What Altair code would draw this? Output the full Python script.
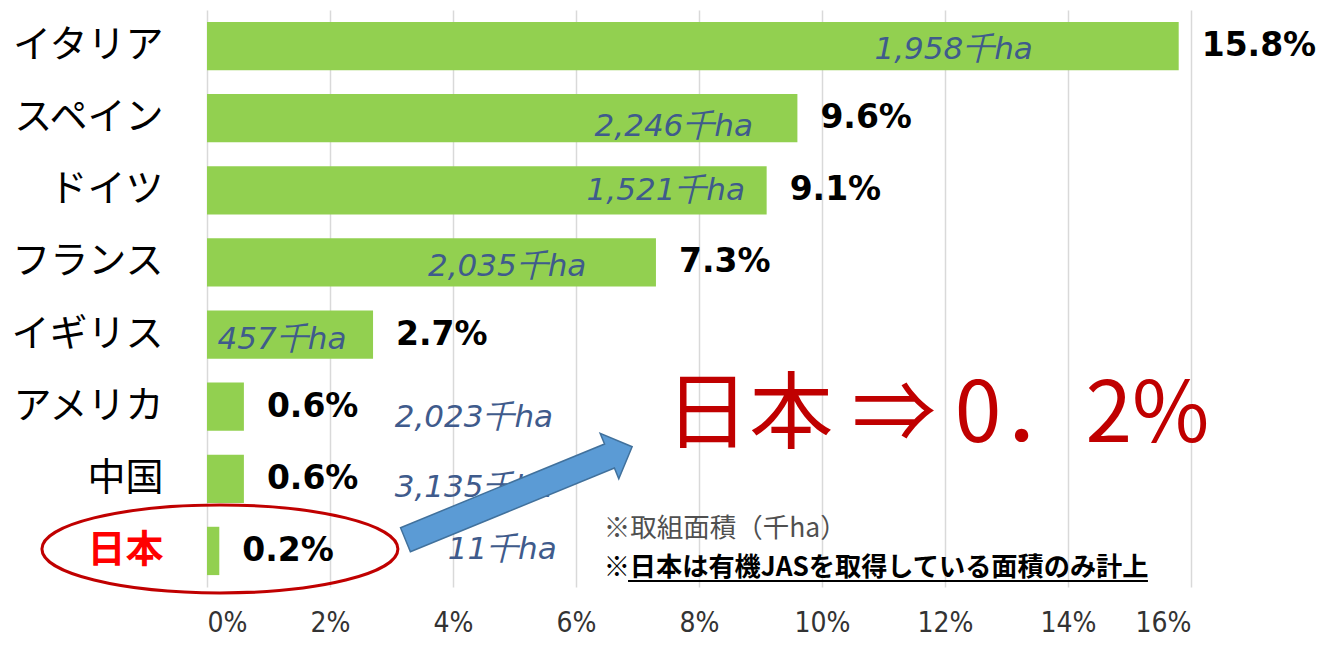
import altair as alt
import pandas as pd

# ---------------- data ----------------
countries = ["イタリア", "スペイン", "ドイツ", "フランス", "イギリス", "アメリカ", "中国", "日本"]
share_pct = [15.8, 9.6, 9.1, 7.3, 2.7, 0.6, 0.6, 0.2]
area_kha = [1958, 2246, 1521, 2035, 457, 2023, 3135, 11]
x_ticks = [0, 2, 4, 6, 8, 10, 12, 14, 16]

# placement of the area labels (x in %, y in row units)
area_label_x = [12.14, 7.59, 7.46, 4.88, 1.22, 4.34, 4.34, 4.80]
area_label_row = [0.55, 1.62, 2.51, 3.56, 4.58, 5.66, 6.63, 7.49]

headline = "日本 ⇒ 0．2%"
note_1 = "※取組面積（千ha）"
note_2 = "※日本は有機JASを取得している面積のみ計上"

# ---------------- layout ----------------
W, H = 984, 577
NROW = len(countries)

xscale = alt.Scale(domain=[0, 16], nice=False, zero=True)
xaxis = alt.Axis(values=x_ticks, labelExpr="datum.value + '%'", title=None,
                 domain=False, ticks=False, grid=True, gridColor="#D9D9D9",
                 gridWidth=1.5, labelFont="DejaVu Sans Condensed", labelFontSize=28,
                 labelColor="#333333", labelPadding=22)
band = alt.Scale(paddingInner=0.33, paddingOuter=0.165)
yq = alt.Scale(domain=[0, NROW], reverse=True, nice=False, zero=False)

bars_df = pd.DataFrame({
    "country": countries,
    "x": share_pct,
    "pct_label": [f"{v}%" for v in share_pct],
})

yaxis = alt.Axis(title=None, domain=False, ticks=False,
                 labelFont="Noto Sans CJK JP", labelFontSize=38, labelPadding=44,
                 labelColor=alt.ExprRef(expr="datum.label == '日本' ? '#FF0000' : '#000000'"),
                 labelFontWeight=alt.ExprRef(expr="datum.label == '日本' ? 'bold' : 'normal'"))

bars = alt.Chart(bars_df).mark_bar(color="#92D050").encode(
    x=alt.X("x:Q", scale=xscale, axis=xaxis),
    y=alt.Y("country:N", sort=countries, scale=band, axis=yaxis),
)

pct_text = alt.Chart(bars_df).mark_text(
    align="left", baseline="middle", dx=23, font="DejaVu Sans",
    fontWeight="bold", fontSize=33, color="#000000"
).encode(
    x=alt.X("x:Q", scale=xscale, axis=xaxis),
    y=alt.Y("country:N", sort=countries, scale=band, axis=None),
    text="pct_label:N",
)

area_df = pd.DataFrame({
    "x": area_label_x,
    "y": area_label_row,
    "label": [f"{v:,}千ha" for v in area_kha],
})
area_text = alt.Chart(area_df).mark_text(
    align="center", baseline="middle", font="DejaVu Sans", fontStyle="italic",
    fontSize=31, color="#3F5B8C"
).encode(
    x=alt.X("x:Q", scale=xscale, axis=xaxis),
    y=alt.Y("y:Q", scale=yq, axis=None),
    text="label:N",
)

# arrow (custom symbol, unit box -1..1)
ARROW = "M -1 -0.106 L 0.8 -0.106 L 0.8 -0.2 L 1 0 L 0.8 0.2 L 0.8 0.106 L -1 0.106 Z"
arrow_df = pd.DataFrame({"x": [5.07], "y": [6.70]})
arrow = alt.Chart(arrow_df).mark_point(
    shape=ARROW, size=60025, angle=337.7, filled=True, color="#5B9BD5",
    stroke="#41719C", strokeWidth=1.5, opacity=1
).encode(
    x=alt.X("x:Q", scale=xscale, axis=xaxis),
    y=alt.Y("y:Q", scale=yq, axis=None),
)

ELLIPSE = "M -1 0 A 1 0.247 0 1 1 1 0 A 1 0.247 0 1 1 -1 0 Z"
ell_df = pd.DataFrame({"x": [0.21], "y": [7.473]})
ellipse = alt.Chart(ell_df).mark_point(
    shape=ELLIPSE, size=126736, filled=False, color="#C00000",
    strokeWidth=3, opacity=1
).encode(
    x=alt.X("x:Q", scale=xscale, axis=xaxis),
    y=alt.Y("y:Q", scale=yq, axis=None),
)

head_df = pd.DataFrame({"x": [7.45], "y": [5.64], "t": [headline]})
head = alt.Chart(head_df).mark_text(
    align="left", baseline="middle", font="Noto Sans CJK JP", fontSize=84,
    color="#C00000"
).encode(
    x=alt.X("x:Q", scale=xscale, axis=xaxis),
    y=alt.Y("y:Q", scale=yq, axis=None),
    text="t:N",
)

n1_df = pd.DataFrame({"x": [6.45], "y": [7.19], "t": [note_1]})
n1 = alt.Chart(n1_df).mark_text(
    align="left", baseline="middle", font="Noto Sans CJK JP", fontSize=26.5,
    color="#505050"
).encode(
    x=alt.X("x:Q", scale=xscale, axis=xaxis),
    y=alt.Y("y:Q", scale=yq, axis=None),
    text="t:N",
)
n2_df = pd.DataFrame({"x": [6.45], "y": [7.73], "t": [note_2]})
n2 = alt.Chart(n2_df).mark_text(
    align="left", baseline="middle", font="Noto Sans CJK JP", fontSize=26.2,
    fontWeight="bold", color="#000000"
).encode(
    x=alt.X("x:Q", scale=xscale, axis=xaxis),
    y=alt.Y("y:Q", scale=yq, axis=None),
    text="t:N",
)
ul_df = pd.DataFrame({"x": [6.846], "x2": [15.30], "y": [7.917]})
underline = alt.Chart(ul_df).mark_rule(color="#000000", strokeWidth=2).encode(
    x=alt.X("x:Q", scale=xscale, axis=xaxis),
    x2="x2:Q",
    y=alt.Y("y:Q", scale=yq, axis=None),
)

chart = alt.layer(
    bars, pct_text, area_text, arrow, head, n1, n2, underline, ellipse
).resolve_scale(y="independent").properties(
    width=W, height=H,
    padding={"left": 199, "top": 2, "right": 128, "bottom": 50},
    autosize=alt.AutoSizeParams(type="none"),
).configure_view(stroke=None)

chart.save("out.html", embed_options={"renderer": "svg", "actions": False})
